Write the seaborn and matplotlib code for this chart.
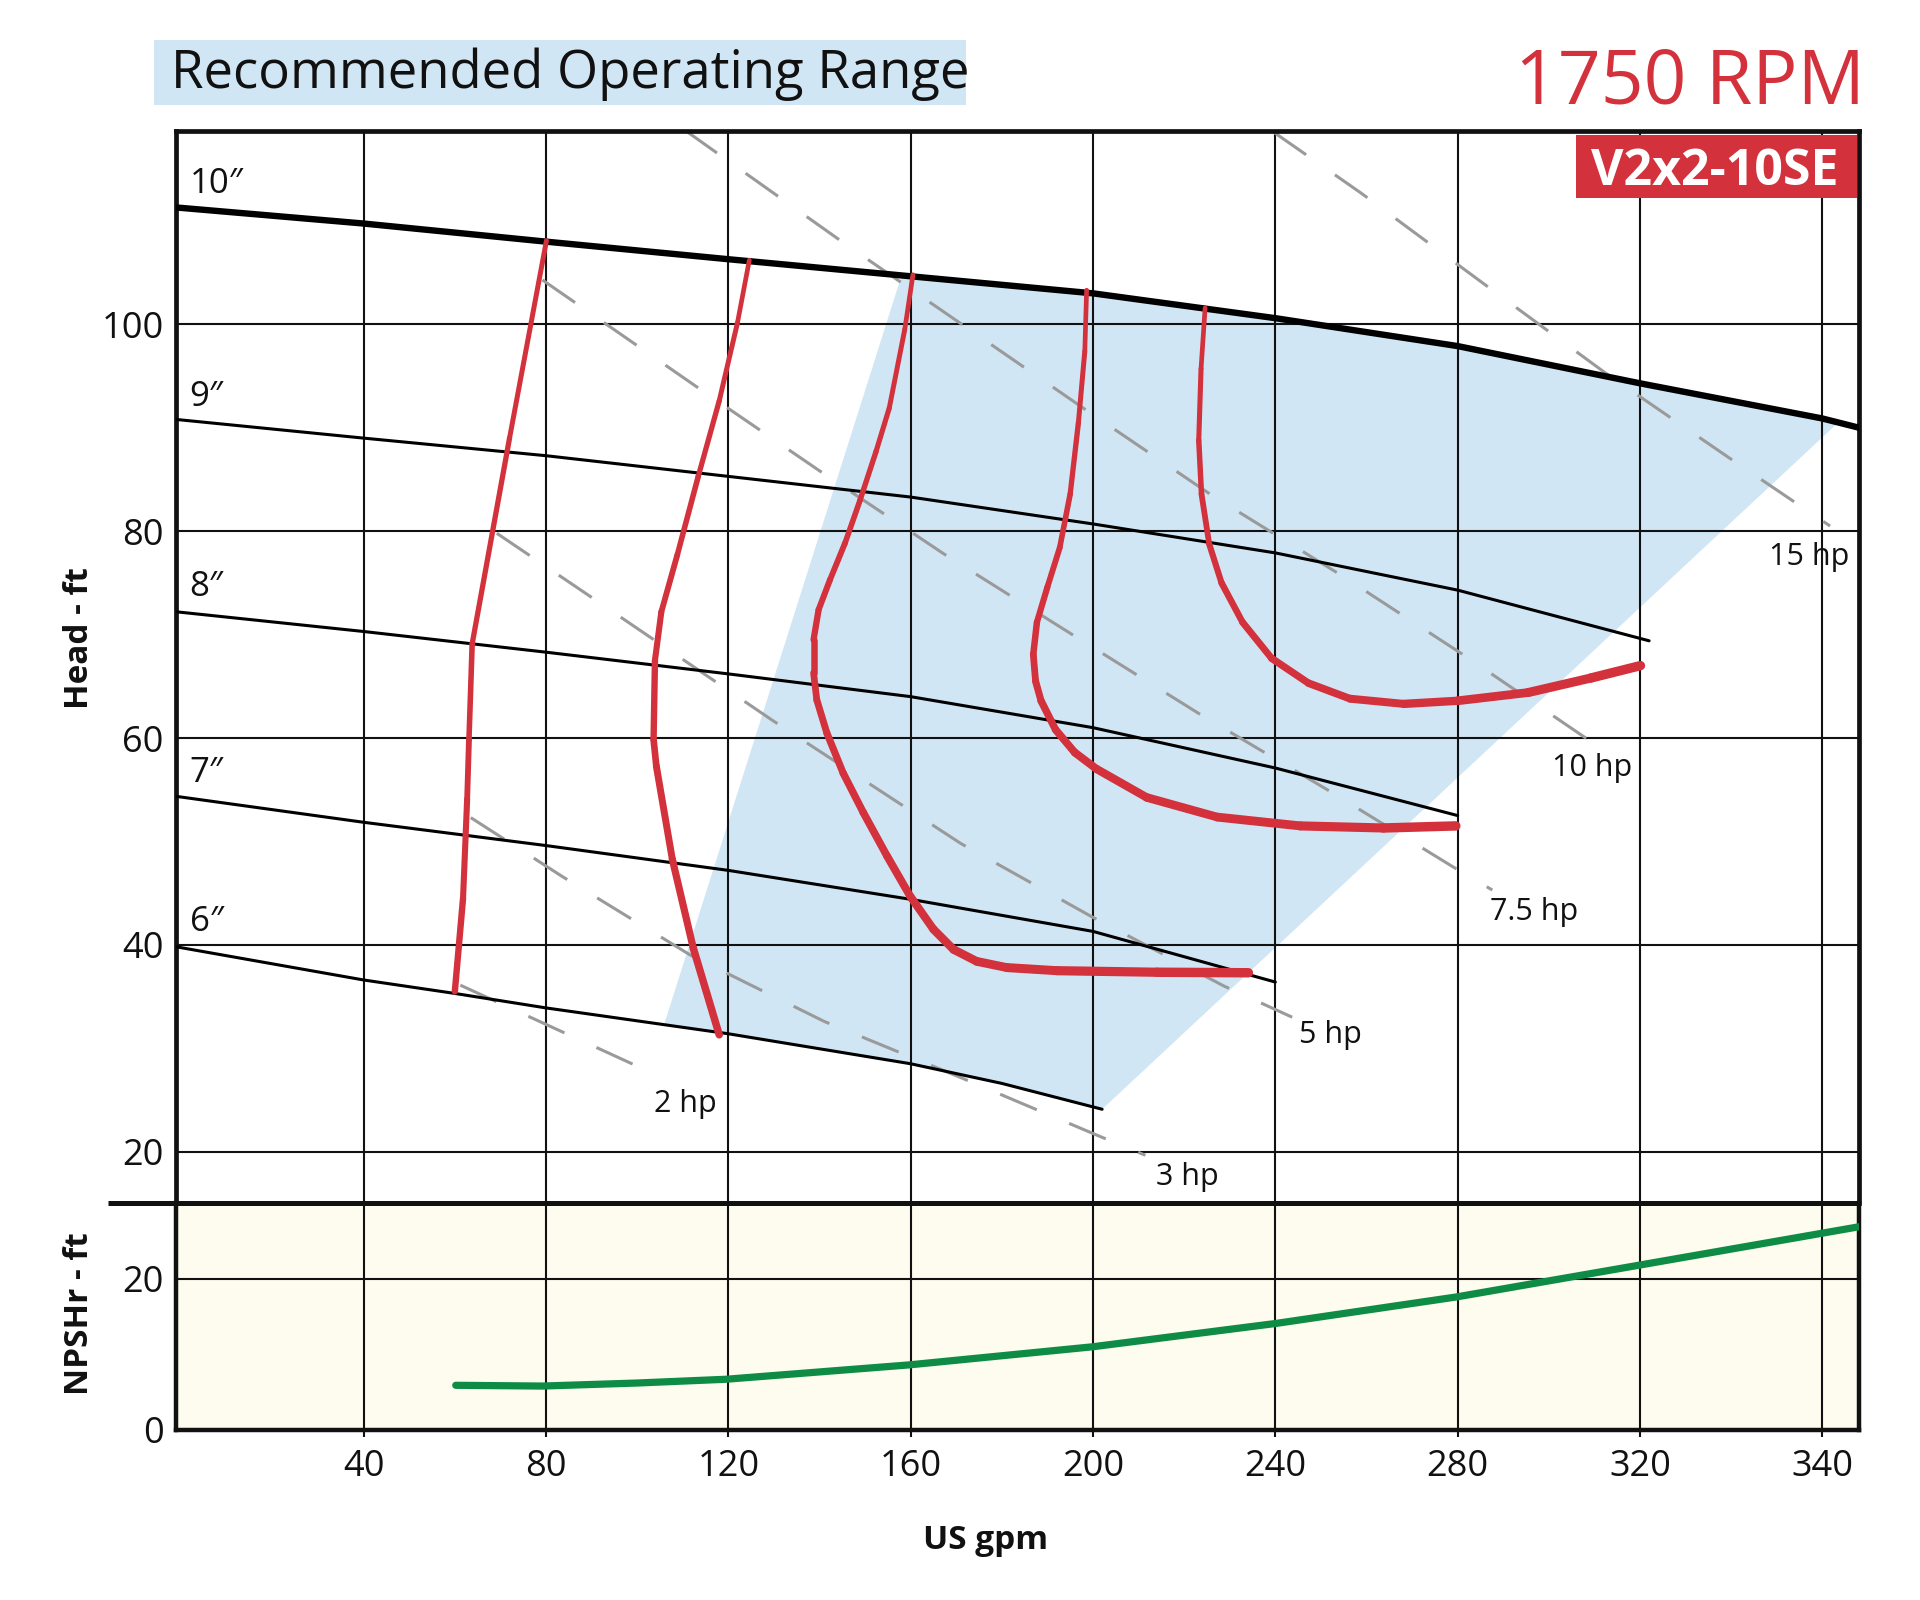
import numpy as np
import matplotlib
matplotlib.use("Agg")
import matplotlib.pyplot as plt
import seaborn as sns
from matplotlib.collections import LineCollection
from matplotlib.patches import Rectangle, Polygon
from matplotlib.lines import Line2D

# ---- impeller curves (US gpm vs head ft) ----
imp_10_q = [-1, 40, 80, 120, 160, 200, 240, 280, 320, 360, 369]
imp_10_h = [111.3, 109.75, 108.0, 106.3, 104.65, 103.0, 100.6, 97.9, 94.3, 90.9, 89.9]
imp_9_q = [-1, 40, 80, 120, 160, 200, 240, 280, 322]
imp_9_h = [90.8, 89.0, 87.3, 85.3, 83.3, 80.7, 77.9, 74.3, 69.4]
imp_8_q = [-1, 40, 80, 120, 160, 200, 240, 280]
imp_8_h = [72.2, 70.3, 68.3, 66.2, 64.0, 61.0, 57.1, 52.5]
imp_7_q = [-1, 40, 80, 120, 160, 200, 240]
imp_7_h = [54.35, 51.85, 49.6, 47.2, 44.4, 41.3, 36.4]
imp_6_q = [-1, 40, 60, 80, 120, 160, 180, 202]
imp_6_h = [39.8, 36.6, 35.3, 33.9, 31.4, 28.5, 26.6, 24.1]
imp_labels = ["10\u2033", "9\u2033", "8\u2033", "7\u2033", "6\u2033"]
imp_label_h = [113.6, 93.0, 74.6, 56.65, 42.2]

# ---- power lines (hp) ----
hp_2_q = [61.2, 104.8]
hp_2_h = [36.1, 27.3]
hp_3_q = [63.5, 83.6, 111.7, 141.0, 170.8, 201.1, 211.5]
hp_3_h = [52.3, 46.6, 39.0, 32.6, 27.2, 21.55, 19.65]
hp_5_q = [69.2, 89.0, 129.7, 171.0, 199.8, 228.8, 243.7]
hp_5_h = [79.8, 73.9, 61.7, 49.8, 42.7, 36.0, 33.0]
hp_75_q = [79.2, 112.6, 139.8, 167.3, 195.1, 223.1, 251.4, 279.5, 287.6]
hp_75_h = [104.3, 94.1, 85.9, 77.8, 70.1, 62.4, 55.0, 47.4, 45.3]
hp_10_q = [110.4, 144.6, 171.9, 199.2, 226.3, 254.6, 282.1, 309.1]
hp_10_h = [118.8, 108.1, 99.8, 91.5, 83.4, 75.7, 67.8, 59.7]
hp_15_q = [239.6, 258.8, 285.5, 312.1, 339.2, 361.7]
hp_15_h = [118.6, 112.7, 104.0, 95.4, 87.2, 80.5]
hp_labels = ["2 hp", "3 hp", "5 hp", "7.5 hp", "10 hp", "15 hp"]
hp_label_q = [110.5, 220.6, 252.0, 296.8, 309.4, 357.2]
hp_label_h = [24.6, 17.55, 31.3, 43.2, 57.1, 77.55]

# ---- red curves ----
red_a_q = [80.1, 72.0, 63.8, 63.1, 62.7, 61.8, 60.0]
red_a_h = [108.1, 89.0, 69.1, 59.85, 54.1, 44.5, 35.5]
red_b_q = [124.6, 122.0, 118.0, 113.4, 108.8, 105.3, 103.9, 103.6, 104.2, 107.7, 112.3, 118.0]
red_b_h = [106.2, 100.15, 92.6, 85.3, 77.7, 72.2, 67.5, 59.85, 57.3, 48.3, 39.7, 31.3]
red_c_q = [160.5, 158.7, 155.3, 152.4, 148.9, 145.6, 142.3, 139.8, 138.7, 138.7, 139.4,
           141.6, 145.2, 149.6, 154.8, 159.9, 165.0, 169.4, 174.5, 181.1, 192.1, 214.0, 234.1]
red_c_h = [104.8, 99.5, 91.9, 87.7, 83.0, 78.85, 75.3, 72.4, 69.5, 66.3, 63.7,
           60.5, 56.6, 52.8, 48.6, 44.7, 41.5, 39.55, 38.4, 37.8, 37.5, 37.35, 37.3]
red_d_q = [198.6, 198.2, 196.8, 195.0, 192.7, 190.0, 187.7, 186.9, 187.4, 188.6, 191.8,
           196.0, 200.8, 211.8, 227.3, 245.5, 263.7, 279.6]
red_d_h = [103.3, 97.4, 90.5, 83.6, 78.4, 74.6, 71.2, 68.1, 65.5, 63.6, 60.8,
           58.6, 57.0, 54.25, 52.35, 51.5, 51.3, 51.5]
red_e_q = [224.6, 223.7, 223.2, 223.8, 225.5, 228.2, 232.8, 239.2, 247.3, 256.4, 268.2,
           280.0, 295.5, 309.2, 320.1]
red_e_h = [101.6, 95.7, 88.8, 83.6, 78.75, 75.0, 71.2, 67.7, 65.3, 63.8, 63.3,
           63.6, 64.4, 65.8, 67.0]

# ---- recommended operating range corners ----
range_q = [105.9, 158.0, 363.5, 202.0]
range_h = [32.6, 104.8, 90.2, 24.2]

# ---- NPSHr ----
npsh_q = [60.2, 79.2, 99.9, 119.5, 159.6, 199.9, 240.2, 279.7, 319.7, 369.0]
npsh_h = [5.9, 5.8, 6.2, 6.7, 8.6, 11.0, 14.1, 17.6, 21.8, 27.0]

x_ticks = [40, 80, 120, 160, 200, 240, 280, 320, 360]
x_tick_labels = ["40", "80", "120", "160", "200", "240", "280", "320", "340"]
head_ticks = [20, 40, 60, 80, 100]
npsh_ticks = [0, 20]

RED = "#d3313c"
BLUE = "#d1e6f4"
CREAM = "#fdfcee"
GREEN = "#0e8c45"
INK = "#111111"

sns.set_theme(style="white")
plt.rcParams["font.family"] = ["Open Sans", "DejaVu Sans"]

fig = plt.figure(figsize=(19.2, 16), dpi=100)
ax = fig.add_axes([0.09184, 0.24790, 0.87628, 0.67023])
ax2 = fig.add_axes([0.09184, 0.10635, 0.87628, 0.14155], sharex=ax)

# operating range shading, bounded by 10" and 6" curves
top_q = [range_q[1]] + [q for q in imp_10_q if range_q[1] < q < range_q[2]] + [range_q[2]]
top_h = list(np.interp(top_q, imp_10_q, imp_10_h))
bot_q = [range_q[3]] + [q for q in imp_6_q[::-1] if range_q[0] < q < range_q[3]] + [range_q[0]]
bot_h = list(np.interp(bot_q, imp_6_q, imp_6_h))
poly_pts = list(zip(top_q + bot_q, top_h + bot_h))
ax.add_patch(Polygon(poly_pts, closed=True, facecolor=BLUE, edgecolor="none", zorder=0.3))

# power lines
for q, h in [(hp_2_q, hp_2_h), (hp_3_q, hp_3_h), (hp_5_q, hp_5_h),
             (hp_75_q, hp_75_h), (hp_10_q, hp_10_h), (hp_15_q, hp_15_h)]:
    ax.plot(q, h, color="#9a9a9a", lw=2.2, linestyle=(0, (13, 11.5)), zorder=2)
for lab, q, h in zip(hp_labels, hp_label_q, hp_label_h):
    ax.text(q, h, lab, fontsize=22, color=INK, ha="center", va="center", zorder=4)

# impeller curves
imp_curves = [(imp_10_q, imp_10_h, 4.6), (imp_9_q, imp_9_h, 2.2), (imp_8_q, imp_8_h, 2.2),
              (imp_7_q, imp_7_h, 2.2), (imp_6_q, imp_6_h, 2.2)]
for q, h, w in imp_curves:
    sns.lineplot(x=q, y=h, ax=ax, color="black", lw=w, sort=False, estimator=None, zorder=3)
for lab, h in zip(imp_labels, imp_label_h):
    ax.text(1.8, h, lab, fontsize=25, color=INK, ha="left", va="center", zorder=4)

# red curves, tapering thicker towards the end
red_curves = [(red_a_q, red_a_h, 3.6, 4.6), (red_b_q, red_b_h, 3.4, 5.4),
              (red_c_q, red_c_h, 3.4, 6.8), (red_d_q, red_d_h, 3.4, 6.8),
              (red_e_q, red_e_h, 3.4, 6.8)]
for q, h, w0, w1 in red_curves:
    pts = np.column_stack([q, h])
    segs = np.stack([pts[:-1], pts[1:]], axis=1)
    widths = np.linspace(w0, w1, len(segs))
    lc = LineCollection(segs, colors=RED, linewidths=widths, capstyle="round",
                        joinstyle="round", zorder=5)
    ax.add_collection(lc)

ax.set_xlim(-1.1, 368)
ax.set_ylim(15.0, 118.7)
ax.set_yticks(head_ticks)
ax.set_yticklabels([str(t) for t in head_ticks])
ax.grid(True, color=INK, lw=1.5)
ax.tick_params(axis="y", length=0, pad=9, labelsize=26, labelcolor=INK)
ax.tick_params(axis="x", length=0, labelbottom=False)
ax.set_xticks(x_ticks)
for side in ["left", "right", "top"]:
    ax.spines[side].set_color(INK)
    ax.spines[side].set_linewidth(3.4)
ax.spines["bottom"].set_visible(False)

# NPSHr panel
ax2.set_facecolor(CREAM)
sns.lineplot(x=npsh_q, y=npsh_h, ax=ax2, color=GREEN, lw=5.2, sort=False, estimator=None, zorder=3)
ax2.set_ylim(0, 30)
ax2.set_yticks(npsh_ticks)
ax2.set_yticklabels([str(t) for t in npsh_ticks])
ax2.set_xticks(x_ticks)
ax2.set_xticklabels(x_tick_labels)
ax2.grid(True, color=INK, lw=1.5)
ax2.tick_params(axis="y", length=0, pad=9, labelsize=26, labelcolor=INK)
ax2.tick_params(axis="x", length=5, width=1.5, color=INK, direction="out", pad=9,
                labelsize=26, labelcolor=INK, bottom=True)
for side in ["left", "right", "bottom"]:
    ax2.spines[side].set_color(INK)
    ax2.spines[side].set_linewidth(3.2)
ax2.spines["top"].set_visible(False)
ax2.set_xlabel("")
ax2.set_ylabel("")
ax.set_xlabel("")
ax.set_ylabel("")

# separator between panels, running out past the left edge
fig.add_artist(Line2D([88 / 1568, 1518 / 1568], [0.2479, 0.2479], transform=fig.transFigure,
                      color=INK, lw=3.6, solid_capstyle="butt", zorder=10))

# axis titles
fig.text(0.0415, 0.601, "Head - ft", rotation=90, fontsize=24, fontweight="bold",
         color=INK, ha="center", va="center")
fig.text(0.0415, 0.179, "NPSHr - ft", rotation=90, fontsize=24, fontweight="bold",
         color=INK, ha="center", va="center")
fig.text(0.5134, 0.037, "US gpm", fontsize=24, fontweight="bold", color=INK,
         ha="center", va="center")

# header
fig.add_artist(Rectangle((0.08036, 0.93420), 0.42283, 0.04055, transform=fig.transFigure,
                         facecolor=BLUE, edgecolor="none", zorder=1))
fig.text(0.0890, 0.9448, "Recommended Operating Range", fontsize=38, color=INK,
         ha="left", va="baseline", zorder=2)
fig.text(0.9712, 0.935, "1750 RPM", fontsize=54, color=RED, ha="right", va="baseline")
fig.add_artist(Rectangle((0.82083, 0.87606), 0.14620, 0.03957, transform=fig.transFigure,
                         facecolor=RED, edgecolor="none", zorder=20))
fig.text(0.8933, 0.8844, "V2x2-10SE", fontsize=36, fontweight="bold", color="white",
         ha="center", va="baseline", zorder=21)

fig.savefig("out.png", dpi=100, facecolor="white")
